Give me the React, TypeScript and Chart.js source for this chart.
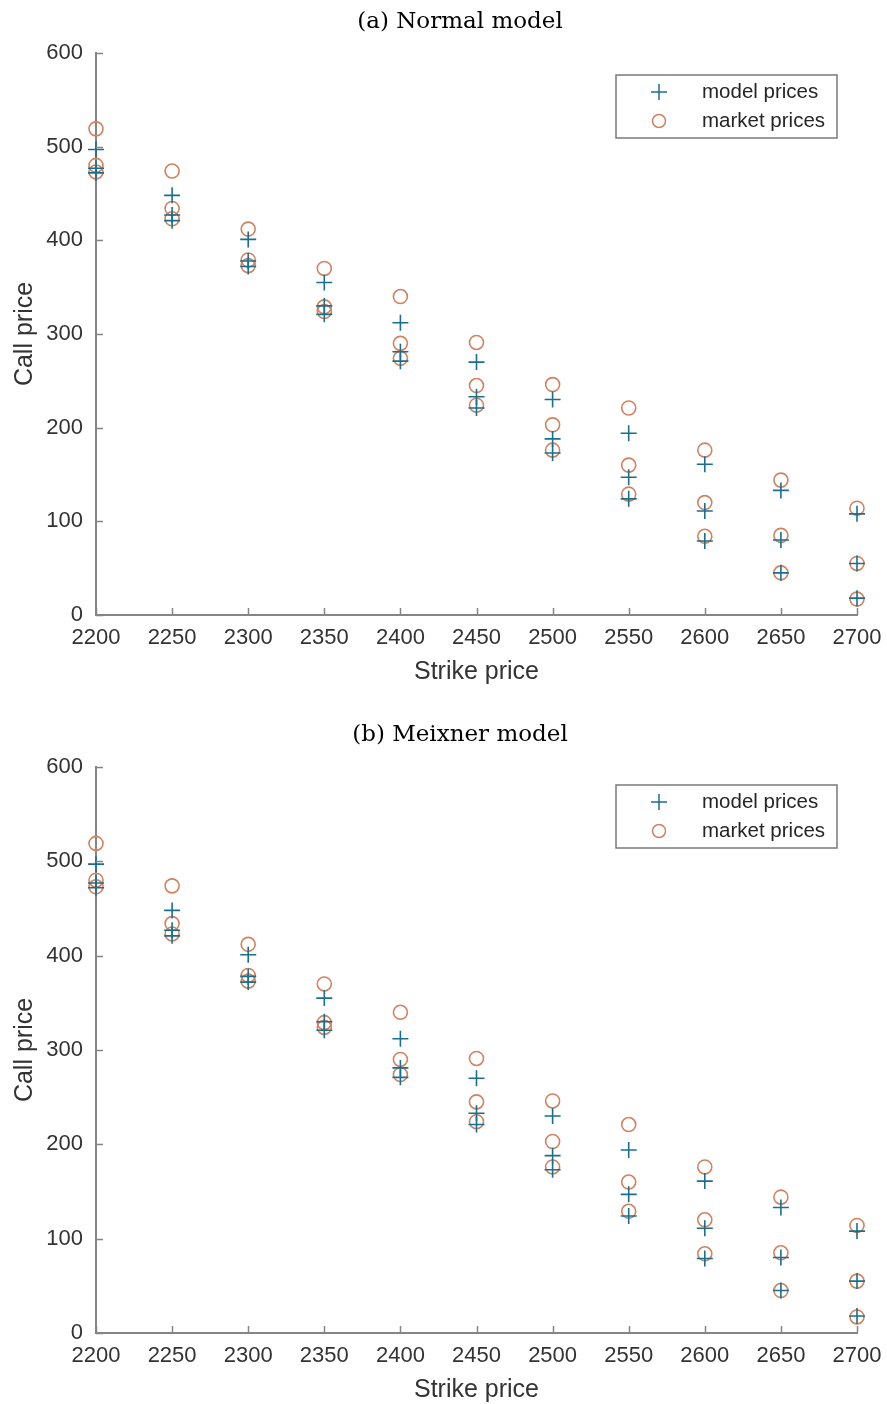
import React, { useEffect, useRef } from "react";
import { Chart, registerables } from "chart.js";

Chart.register(...registerables);

// Strike prices (x axis categories) and axis tick values
const strikes = [2200, 2250, 2300, 2350, 2400, 2450, 2500, 2550, 2600, 2650, 2700];
const xTickValues = [2200, 2250, 2300, 2350, 2400, 2450, 2500, 2550, 2600, 2650, 2700];
const yTickValues = [0, 100, 200, 300, 400, 500, 600];

// Market call prices (three maturities)
const marketPricesA = [519, 474, 412, 370, 340, 291, 246, 221, 176, 144, 114];
const marketPricesB = [480, 434, 379, 329, 290, 245, 203, 160, 120, 85, 55];
const marketPricesC = [473, 423, 373, 324, 274, 224, 176, 129, 84, 45, 17];

// Normal model prices
const normalModelA = [497, 448, 401, 355, 312, 270, 230, 194, 161, 133, 108];
const normalModelB = [477, 427, 378, 330, 281, 233, 188, 147, 111, 80, 55];
const normalModelC = [472, 421, 372, 321, 271, 221, 173, 124, 79, 45, 18];

// Meixner model prices
const meixnerModelA = [497, 448, 401, 355, 312, 270, 230, 194, 161, 133, 108];
const meixnerModelB = [477, 427, 378, 330, 281, 233, 188, 147, 111, 80, 55];
const meixnerModelC = [472, 421, 372, 321, 271, 221, 173, 124, 79, 45, 18];

const legendLabels = ["model prices", "market prices"];

const MODEL_COLOR = "#1a6f8e";
const MARKET_COLOR = "#d2825f";
const AXIS_COLOR = "#858585";
const TEXT_COLOR = "#333333";
const SANS = '"Liberation Sans", Arial, sans-serif';

function toPoints(series: number[][]) {
  const pts: { x: number; y: number }[] = [];
  series.forEach((s) => s.forEach((v, i) => pts.push({ x: strikes[i], y: v })));
  return pts;
}

const decorPlugin = {
  id: "decor",
  afterDraw(chart: any, _args: any, opts: any) {
    const { ctx, chartArea, scales } = chart;
    ctx.save();
    // panel caption
    ctx.font = '23px "DejaVu Serif", serif';
    ctx.fillStyle = "#000";
    ctx.textAlign = "center";
    ctx.textBaseline = "middle";
    ctx.fillText(opts.title, opts.titleX, opts.titleY);

    // inward tick marks
    ctx.strokeStyle = AXIS_COLOR;
    ctx.lineWidth = 1.5;
    const xs = scales.x;
    const ys = scales.y;
    xs.ticks.forEach((t: any) => {
      const px = Math.round(xs.getPixelForValue(t.value)) + 0.5;
      ctx.beginPath();
      ctx.moveTo(px, chartArea.bottom);
      ctx.lineTo(px, chartArea.bottom - 7);
      ctx.stroke();
    });
    ys.ticks.forEach((t: any) => {
      const py = Math.round(ys.getPixelForValue(t.value)) + 0.5;
      ctx.beginPath();
      ctx.moveTo(chartArea.left, py);
      ctx.lineTo(chartArea.left + 7, py);
      ctx.stroke();
    });

    // legend box
    const bx = chartArea.right - 241;
    const by = chartArea.top + opts.legendOffset;
    const bw = 221;
    const bh = 63;
    ctx.fillStyle = "#fff";
    ctx.fillRect(bx, by, bw, bh);
    ctx.strokeStyle = "#7a7a7a";
    ctx.lineWidth = 1.5;
    ctx.strokeRect(bx, by, bw, bh);

    const mx = bx + 43;
    const r1 = by + 17;
    const r2 = by + 46;
    ctx.strokeStyle = MODEL_COLOR;
    ctx.lineWidth = 1.5;
    ctx.beginPath();
    ctx.moveTo(mx - 8, r1);
    ctx.lineTo(mx + 8, r1);
    ctx.moveTo(mx, r1 - 8);
    ctx.lineTo(mx, r1 + 8);
    ctx.stroke();
    ctx.strokeStyle = MARKET_COLOR;
    ctx.beginPath();
    ctx.arc(mx, r2, 6.5, 0, Math.PI * 2);
    ctx.stroke();

    ctx.fillStyle = "#262626";
    ctx.font = `20.5px ${SANS}`;
    ctx.textAlign = "left";
    ctx.textBaseline = "middle";
    ctx.fillText(legendLabels[0], bx + 86, r1);
    ctx.fillText(legendLabels[1], bx + 86, r2);
    ctx.restore();
  },
};

type PanelProps = {
  title: string;
  model: number[][];
  top: number;
  height: number;
  titleY: number;
  areaTop: number;
  areaBottom: number;
  legendOffset: number;
};

const X_BOX_H = 70;

function Panel(p: PanelProps) {
  const ref = useRef<HTMLCanvasElement>(null);
  useEffect(() => {
    if (!ref.current) return;
    const chart = new Chart(ref.current, {
      type: "scatter",
      data: {
        datasets: [
          {
            label: legendLabels[0],
            data: toPoints(p.model),
            pointStyle: "cross",
            pointRadius: 8,
            pointBorderWidth: 1.6,
            borderColor: MODEL_COLOR,
            backgroundColor: MODEL_COLOR,
            pointHoverRadius: 8,
            clip: false,
          } as any,
          {
            label: legendLabels[1],
            data: toPoints([marketPricesA, marketPricesB, marketPricesC]),
            pointStyle: "circle",
            pointRadius: 7,
            pointBorderWidth: 1.6,
            borderColor: MARKET_COLOR,
            backgroundColor: "rgba(0,0,0,0)",
            pointHoverRadius: 7,
            clip: false,
          } as any,
        ],
      },
      options: {
        animation: false,
        responsive: false,
        events: [],
        layout: {
          padding: {
            left: 0,
            right: 30,
            top: p.areaTop,
            bottom: p.height - p.areaBottom - X_BOX_H,
          },
        },
        plugins: {
          legend: { display: false },
          tooltip: { enabled: false },
          decor: { title: p.title, titleX: 460, titleY: p.titleY, legendOffset: p.legendOffset },
        } as any,
        scales: {
          x: {
            type: "linear",
            min: 2200,
            max: 2700,
            afterBuildTicks: (s: any) => {
              s.ticks = xTickValues.map((v) => ({ value: v }));
            },
            afterFit: (s: any) => {
              s.height = X_BOX_H;
              s.paddingLeft = 0;
              s.paddingRight = 0;
            },
            grid: { display: true, drawOnChartArea: false, drawTicks: false },
            border: { display: true, color: AXIS_COLOR, width: 2 },
            ticks: {
              padding: 10,
              color: TEXT_COLOR,
              font: { family: SANS, size: 22 },
              maxRotation: 0,
              autoSkip: false,
              callback: (v: any) => String(v),
            },
            title: {
              display: true,
              text: "Strike price",
              color: TEXT_COLOR,
              font: { family: SANS, size: 25, lineHeight: 1 },
              padding: { top: 0, bottom: 0 },
            },
          },
          y: {
            type: "linear",
            min: 0,
            max: 600,
            afterBuildTicks: (s: any) => {
              s.ticks = yTickValues.map((v) => ({ value: v }));
            },
            afterFit: (s: any) => {
              s.width = 96;
              s.paddingTop = 0;
              s.paddingBottom = 0;
            },
            grid: { display: true, drawOnChartArea: false, drawTicks: false },
            border: { display: true, color: AXIS_COLOR, width: 2 },
            ticks: {
              padding: 13,
              color: TEXT_COLOR,
              font: { family: SANS, size: 22 },
              autoSkip: false,
              callback: (v: any) => String(v),
            },
            title: {
              display: true,
              text: "Call price",
              color: TEXT_COLOR,
              font: { family: SANS, size: 25, lineHeight: 1 },
              padding: { top: 13, bottom: 0 },
            },
          },
        },
      },
      plugins: [decorPlugin as any],
    });
    return () => chart.destroy();
  }, []);
  return (
    <canvas
      ref={ref}
      width={887}
      height={p.height}
      style={{ position: "absolute", left: 0, top: p.top, width: 887, height: p.height, display: "block" }}
    />
  );
}

export default function App() {
  return (
    <div style={{ position: "absolute", left: 0, top: 0, width: 887, height: 1404, background: "#fff" }}>
      <Panel
        title="(a) Normal model"
        model={[normalModelA, normalModelB, normalModelC]}
        top={0}
        height={700}
        titleY={22}
        areaTop={53}
        areaBottom={615}
        legendOffset={22}
      />
      <Panel
        title="(b) Meixner model"
        model={[meixnerModelA, meixnerModelB, meixnerModelC]}
        top={700}
        height={704}
        titleY={35}
        areaTop={67}
        areaBottom={633}
        legendOffset={18}
      />
    </div>
  );
}
